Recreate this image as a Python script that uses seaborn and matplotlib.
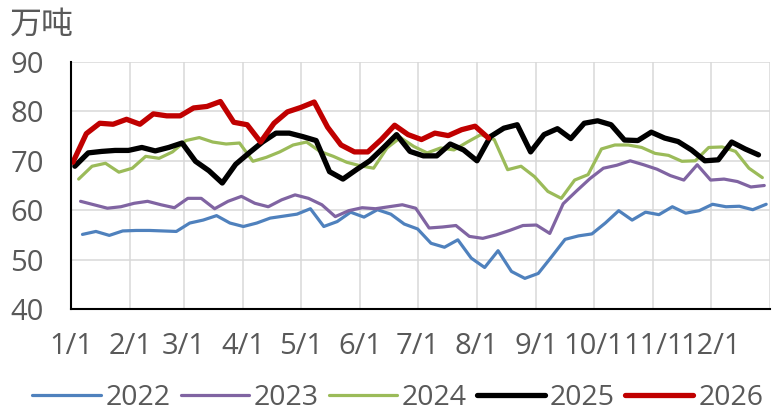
import pandas as pd
import matplotlib
matplotlib.use('Agg')
import matplotlib.pyplot as plt
import seaborn as sns

# weekly values, 万吨
years = ['2022', '2023', '2024', '2025', '2026']
first_friday = ['2022-01-07', '2023-01-06', '2024-01-05', '2025-01-03', '2026-01-02']

v2022 = [55.1, 55.7, 54.9, 55.8, 55.9, 55.9, 55.8, 55.7, 57.4, 58.0,
         58.9, 57.4, 56.7, 57.4, 58.4, 58.8, 59.2, 60.3, 56.7, 57.7,
         59.6, 58.6, 60.1, 59.2, 57.2, 56.2, 53.3, 52.5, 54.0, 50.3,
         48.4, 51.8, 47.6, 46.2, 47.2, 50.6, 54.1, 54.8, 55.2, 57.4,
         59.9, 58.0, 59.6, 59.1, 60.7, 59.4, 59.9, 61.2, 60.7, 60.8,
         60.1, 61.2]
v2023 = [61.8, 61.1, 60.4, 60.7, 61.4, 61.8, 61.1, 60.5, 62.4, 62.4,
         60.3, 61.8, 62.8, 61.4, 60.7, 62.1, 63.1, 62.4, 61.1, 58.7,
         59.9, 60.5, 60.3, 60.7, 61.1, 60.4, 56.4, 56.6, 56.9, 54.7,
         54.3, 55.0, 55.9, 56.9, 57.0, 55.3, 61.3, 63.9, 66.4, 68.5,
         69.1, 70.0, 69.2, 68.3, 67.0, 66.1, 69.2, 66.1, 66.3, 65.8,
         64.7, 65.0]
v2024 = [66.3, 68.9, 69.5, 67.7, 68.5, 70.9, 70.5, 71.8, 74.1, 74.7,
         73.8, 73.4, 73.6, 69.9, 70.7, 71.8, 73.2, 73.8, 71.9, 70.9,
         69.7, 69.0, 68.5, 72.6, 74.7, 72.9, 71.6, 72.6, 72.2, 73.8,
         75.3, 74.3, 68.2, 68.9, 66.8, 63.8, 62.4, 66.1, 67.2, 72.4,
         73.2, 73.2, 72.7, 71.5, 71.1, 69.9, 70.0, 72.7, 72.8, 71.9,
         68.5, 66.6]
v2025 = [68.9, 71.6, 71.9, 72.1, 72.1, 72.7, 72.0, 72.7, 73.6, 69.9,
         68.0, 65.5, 69.3, 71.6, 73.8, 75.6, 75.6, 74.9, 74.1, 67.8,
         66.3, 68.2, 70.0, 72.6, 75.3, 71.9, 71.0, 71.0, 73.4, 72.2,
         70.0, 74.9, 76.6, 77.3, 71.8, 75.3, 76.5, 74.5, 77.6, 78.1,
         77.3, 74.2, 74.1, 75.8, 74.6, 73.9, 72.2, 70.0, 70.2, 73.8,
         72.4, 71.2]
v2026 = [69.7, 75.5, 77.6, 77.4, 78.4, 77.4, 79.5, 79.1, 79.1, 80.7,
         81.0, 82.0, 77.8, 77.3, 73.8, 77.6, 79.9, 80.8, 81.9, 76.8,
         73.2, 71.8, 71.8, 74.3, 77.2, 75.3, 74.3, 75.6, 75.1, 76.3,
         77.0, 74.6]
values = [v2022, v2023, v2024, v2025, v2026]

month_days = [0, 31, 59, 90, 120, 151, 181, 212, 243, 273, 304, 334, 365]
month_labels = ['1/1', '2/1', '3/1', '4/1', '5/1', '6/1', '7/1', '8/1',
                '9/1', '10/1', '11/1', '12/1', '']

colors = ['#4F81BD', '#8064A2', '#9BBB59', '#000000', '#C00000']
widths = [2.3, 2.3, 2.3, 3.8, 3.8]

sns.set_theme(style='white')
plt.rcParams['font.family'] = ['Open Sans', 'Noto Sans CJK SC', 'DejaVu Sans']

fig = plt.figure(figsize=(7.83, 4.2), dpi=100)
ax = fig.add_axes([71 / 783, 1 - 309 / 420, 699 / 783, 247 / 420])

for yr, start, vals, c, lw in zip(years, first_friday, values, colors, widths):
    dates = pd.date_range(start, periods=len(vals), freq='7D')
    day = (dates - pd.Timestamp(f'{yr}-01-01')).days
    sns.lineplot(x=day, y=vals, ax=ax, color=c, linewidth=lw, label=yr,
                 solid_joinstyle='round', solid_capstyle='round')

ax.set_xlim(0, 365)
ax.set_ylim(40, 90)
ax.set_xticks(month_days)
ax.set_xticklabels(month_labels)
ax.set_yticks(range(40, 91, 10))
ax.grid(True, color='#D9D9D9', linewidth=1.1)
ax.set_axisbelow(True)
for s in ['top', 'right']:
    ax.spines[s].set_visible(False)
for s in ['left', 'bottom']:
    ax.spines[s].set_color('black')
    ax.spines[s].set_linewidth(1.5)
ax.tick_params(axis='both', direction='out', length=6.5, width=1.5, color='black',
               labelsize=21, labelcolor='#595959')
ax.tick_params(axis='y', pad=13)
ax.tick_params(axis='x', pad=10)
ax.set_xlabel('')
ax.set_ylabel('')

fig.text(10 / 783, 1 - 25 / 420, '万吨', ha='left', va='center',
         fontsize=23, color='#595959')

handles, labels = ax.get_legend_handles_labels()
ax.get_legend().remove()
fig.legend(handles, labels, loc='center', bbox_to_anchor=(0.508, 1 - 398 / 420),
           ncol=5, frameon=False, fontsize=20.5, handlelength=2.4,
           handletextpad=0.17, columnspacing=0.35, labelcolor='#595959')

fig.savefig('out.png', dpi=100)
